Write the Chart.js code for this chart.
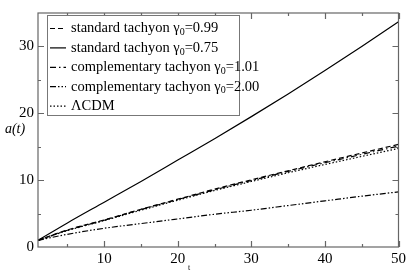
<!DOCTYPE html>
<html>
<head>
<meta charset="utf-8">
<script src="https://cdn.jsdelivr.net/npm/chart.js@4.4.1/dist/chart.umd.min.js"></script>
<style>
html, body { margin: 0; padding: 0; background: #fff; }
#wrap { width: 409px; height: 273px; }
</style>
</head>
<body>
<div id="wrap"><canvas id="chart"></canvas></div>
<script>
// values
var tValues = [1, 5, 10, 15, 20, 25, 30, 35, 40, 45, 50];
var std099  = [1, 2.55, 4.05, 5.65, 7.15, 8.65, 10.05, 11.4, 12.75, 14.05, 15.35];
var std075  = [1, 3.6, 6.7, 9.8, 13.0, 16.2, 19.5, 22.9, 26.4, 30.0, 33.7];
var comp101 = [1, 2.5, 4.0, 5.6, 7.1, 8.55, 9.95, 11.3, 12.6, 13.85, 15.1];
var comp200 = [1, 1.9, 2.8, 3.5, 4.2, 4.9, 5.5, 6.2, 6.9, 7.6, 8.25];
var lcdm    = [1, 2.45, 3.95, 5.5, 7.0, 8.45, 9.8, 11.1, 12.35, 13.55, 14.75];

var xTicks = [10, 20, 30, 40, 50];
var yTicks = [0, 10, 20, 30];

var serif = "'Liberation Serif', 'Times New Roman', serif";

function pts(ys) {
	return tValues.map(function(t, i) { return { x: t, y: ys[i] }; });
}

function line(label, ys, dash, pre, post) {
	return {
		label: label,
		data: pts(ys),
		borderColor: '#000',
		borderWidth: 1.2,
		borderDash: dash,
		pointRadius: 0,
		cubicInterpolationMode: 'monotone',
		fill: false,
		legendPre: pre,
		legendPost: post
	};
}

// frame, inward ticks, legend with subscripts, axis titles
var decor = {
	id: 'decor',
	afterDraw: function(chart) {
		var ctx = chart.ctx, a = chart.chartArea;
		var xs = chart.scales.x, ys = chart.scales.y;
		ctx.save();
		ctx.strokeStyle = '#666';
		ctx.lineWidth = 1.2;
		ctx.strokeRect(a.left, a.top, a.right - a.left, a.bottom - a.top);

		ctx.beginPath();
		for (var v = 5; v <= 50; v += 5) {
			var px = Math.round(xs.getPixelForValue(v)) + 0.5;
			var len = v % 10 === 0 ? 6 : 3;
			ctx.moveTo(px, a.bottom); ctx.lineTo(px, a.bottom - len);
			ctx.moveTo(px, a.top); ctx.lineTo(px, a.top + len);
		}
		for (var w = 5; w < 35; w += 5) {
			var py = Math.round(ys.getPixelForValue(w)) + 0.5;
			var l2 = w % 10 === 0 ? 6 : 3;
			ctx.moveTo(a.left, py); ctx.lineTo(a.left + l2, py);
			ctx.moveTo(a.right, py); ctx.lineTo(a.right - l2, py);
		}
		ctx.stroke();

		// legend
		var bx = 47.5, by = 15.5, bw = 192, bh = 100;
		ctx.fillStyle = '#fff';
		ctx.fillRect(bx, by, bw, bh);
		ctx.strokeStyle = '#777';
		ctx.lineWidth = 1;
		ctx.strokeRect(bx, by, bw, bh);
		chart.data.datasets.forEach(function(ds, i) {
			var ry = 28.5 + i * 19.4;
			ctx.strokeStyle = '#000';
			ctx.lineWidth = 1.2;
			ctx.setLineDash(ds.borderDash || []);
			ctx.beginPath();
			ctx.moveTo(50, ry); ctx.lineTo(66, ry);
			ctx.stroke();
			ctx.setLineDash([]);
			ctx.fillStyle = '#000';
			ctx.textBaseline = 'middle';
			ctx.textAlign = 'left';
			ctx.font = '14.5px ' + serif;
			var x = 71;
			ctx.fillText(ds.legendPre, x, ry);
			x += ctx.measureText(ds.legendPre).width;
			if (ds.legendPost) {
				ctx.font = '10px ' + serif;
				ctx.fillText('0', x, ry + 4);
				x += ctx.measureText('0').width;
				ctx.font = '14.5px ' + serif;
				ctx.fillText(ds.legendPost, x, ry);
			}
		});

		// axis titles
		ctx.fillStyle = '#000';
		ctx.textAlign = 'center';
		ctx.textBaseline = 'middle';
		ctx.font = 'italic 14px ' + serif;
		ctx.fillText('a(t)', 15, 129);
		ctx.font = '8px ' + serif;
		ctx.fillText('t', 189, 268);
		ctx.restore();
	}
};

new Chart(document.getElementById('chart'), {
	type: 'line',
	data: {
		datasets: [
			line('standard tachyon γ0=0.99', std099, [5, 3], 'standard tachyon γ', '=0.99'),
			line('standard tachyon γ0=0.75', std075, [], 'standard tachyon γ', '=0.75'),
			line('complementary tachyon γ0=1.01', comp101, [6, 3, 1.5, 3], 'complementary tachyon γ', '=1.01'),
			line('complementary tachyon γ0=2.00', comp200, [6, 2, 1.5, 2, 1.5, 2], 'complementary tachyon γ', '=2.00'),
			line('ΛCDM', lcdm, [1.5, 2], 'ΛCDM', '')
		]
	},
	options: {
		responsive: true,
		maintainAspectRatio: false,
		animation: false,
		layout: { padding: { top: 1, right: 7, left: 0, bottom: 0 } },
		plugins: {
			legend: { display: false },
			tooltip: { enabled: false }
		},
		scales: {
			x: {
				type: 'linear',
				min: 1,
				max: 50,
				grid: { display: false, drawTicks: false },
				border: { display: false },
				afterBuildTicks: function(s) { s.ticks = xTicks.map(function(v) { return { value: v }; }); },
				afterFit: function(s) { s.height = 26; },
				ticks: { color: '#000', padding: 3, maxRotation: 0, font: { family: serif, size: 15 } }
			},
			y: {
				min: 0,
				max: 35,
				grid: { display: false, drawTicks: false },
				border: { display: false },
				afterBuildTicks: function(s) { s.ticks = yTicks.map(function(v) { return { value: v }; }); },
				afterFit: function(s) { s.width = 38; },
				ticks: { color: '#000', padding: 4, font: { family: serif, size: 15 } }
			}
		}
	},
	plugins: [decor]
});
</script>
</body>
</html>
